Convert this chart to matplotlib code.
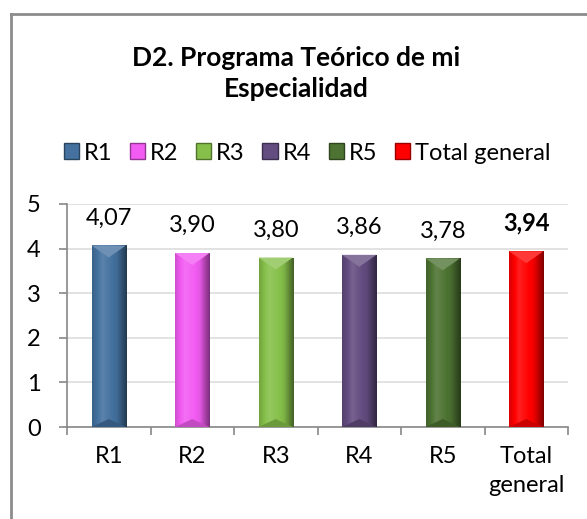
import numpy as np
import matplotlib.pyplot as plt
from matplotlib.colors import to_rgb
from matplotlib.patches import Polygon, Rectangle

categories = ['R1', 'R2', 'R3', 'R4', 'R5', 'Total\ngeneral']
legend_names = ['R1', 'R2', 'R3', 'R4', 'R5', 'Total general']
values = [4.07, 3.90, 3.80, 3.86, 3.78, 3.94]
colors = ['#44719F', '#F25CF2', '#86C04A', '#634C80', '#4D7332', '#FF0000']

plt.rcParams['font.family'] = ['Lato', 'DejaVu Sans']
plt.rcParams['font.size'] = 16

fig = plt.figure(figsize=(5.87, 5.19), dpi=100)
ax = fig.add_axes([67 / 587, 1 - 427 / 519, 501 / 587, 223 / 519])

x = np.arange(len(values))
width = 0.41


def shade(rgb, f):
    rgb = np.array(rgb)
    if f >= 1:
        return rgb + (1 - rgb) * (f - 1)
    return rgb * f


bars = ax.bar(x, values, width=width, color=colors, zorder=2)
ax.set_xlim(-0.5, len(values) - 0.5)
ax.set_ylim(0, 5)

# pixel to data scale for the bevel height
fig.canvas.draw()
px_per_unit = ax.bbox.height / 5.0
bevel_top = 12 / px_per_unit
bevel_bot = 8 / px_per_unit

profile = np.concatenate([np.linspace(0.85, 1.12, 30), np.linspace(1.12, 0.95, 40),
                          np.linspace(0.95, 0.5, 30)])
for bar, c in zip(bars, colors):
    rgb = to_rgb(c)
    x0 = bar.get_x()
    x1 = x0 + bar.get_width()
    h = bar.get_height()
    grad = np.array([[np.clip(shade(rgb, f), 0, 1) for f in profile]])
    im = ax.imshow(grad, extent=(x0, x1, 0, h), aspect='auto', zorder=3,
                   interpolation='bilinear')
    im.set_clip_path(bar)
    xm = (x0 + x1) / 2
    ax.add_patch(Polygon([(x0, h), (x1, h), (xm, h - bevel_top)], closed=True,
                         facecolor=np.clip(shade(rgb, 1.22), 0, 1), edgecolor='none', zorder=4))
    ax.add_patch(Polygon([(x0, 0), (x1, 0), (xm, bevel_bot)], closed=True,
                         facecolor=shade(rgb, 0.8), edgecolor='none', zorder=4))

# value labels
for i, v in enumerate(values):
    label = f'{v:.2f}'.replace('.', ',')
    weight = 'bold' if i == len(values) - 1 else 'normal'
    ax.text(i, v + 0.38, label, ha='center', va='bottom', fontsize=17, fontweight=weight)

ax.set_yticks(range(6))
ax.yaxis.grid(True, color='#DDDDDD', linewidth=1.2, zorder=0)
ax.set_axisbelow(True)
ax.set_xticks(x)
ax.set_xticklabels(categories, linespacing=1.45, fontsize=17)
ax.set_xticks(np.arange(-0.5, len(values)), minor=True)
ax.tick_params(axis='x', which='major', length=0, pad=14)
ax.tick_params(axis='x', which='minor', length=6, color='#888888', width=1.2)
ax.tick_params(axis='y', length=6, color='#888888', width=1.2, pad=13, labelsize=17)
for s in ['top', 'right']:
    ax.spines[s].set_visible(False)
for s in ['left', 'bottom']:
    ax.spines[s].set_color('#888888')
    ax.spines[s].set_linewidth(1.2)

fig.text(296 / 587, 1 - 58 / 519, 'D2. Programa Teórico de mi', ha='center', va='center',
         fontsize=19, fontweight='bold')
fig.text(296 / 587, 1 - 89 / 519, 'Especialidad', ha='center', va='center',
         fontsize=19, fontweight='bold')

handles = [Rectangle((0, 0), 1, 1, facecolor=c, edgecolor=shade(to_rgb(c), 0.6)) for c in colors]
fig.legend(handles, legend_names, loc='center', bbox_to_anchor=(307 / 587, 1 - 153 / 519),
           ncol=6, frameon=False, handlelength=0.65, handleheight=0.65, handletextpad=0.2,
           columnspacing=0.75, fontsize=17)

# chart border (only top and left edges fall inside the image)
fig.add_artist(plt.Line2D([11 / 587, 1.0], [1 - 14 / 519, 1 - 14 / 519], color='#8C8C8C',
                          linewidth=2, transform=fig.transFigure))
fig.add_artist(plt.Line2D([11 / 587, 11 / 587], [1 - 14 / 519, 0.0], color='#8C8C8C',
                          linewidth=2, transform=fig.transFigure))

fig.savefig('out.png', dpi=100)
